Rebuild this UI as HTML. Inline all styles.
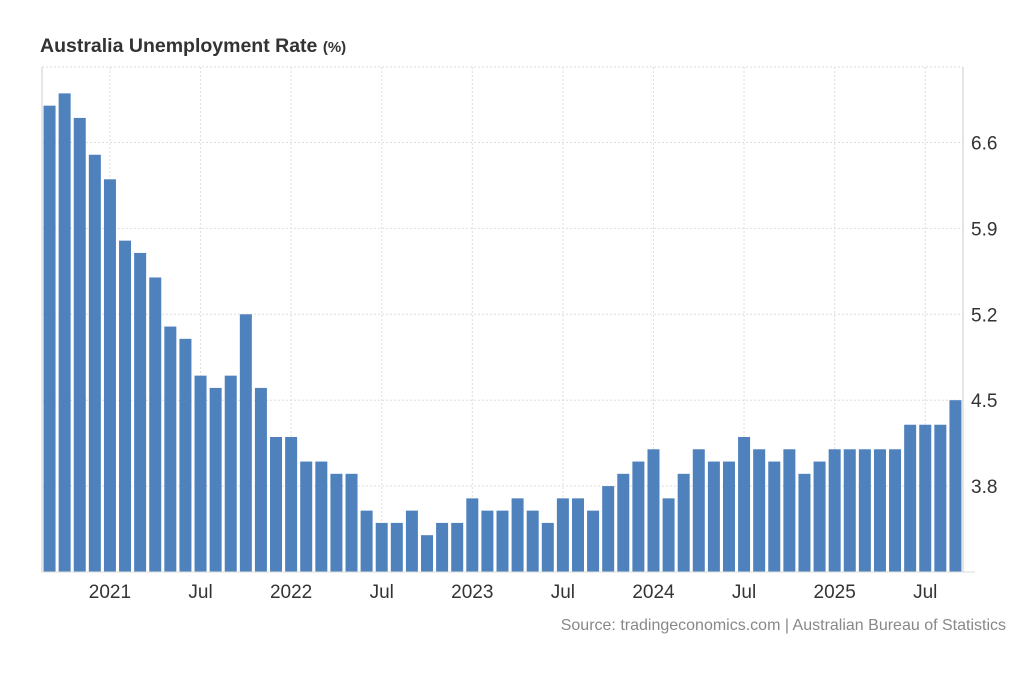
<!DOCTYPE html>
<html><head><meta charset="utf-8"><style>
body{margin:0;background:#fff;font-family:"Liberation Sans",Arial,sans-serif;}
#wrap{position:relative;width:1024px;height:700px;overflow:hidden;}
</style></head><body>
<div id="wrap">
<svg id="chart" width="1024" height="700">
<text x="40" y="52" font-size="19.5" font-weight="bold" fill="#333">Australia Unemployment Rate <tspan font-size="15">(%)</tspan></text>
<text x="1006" y="630" font-size="16" fill="#888" text-anchor="end">Source: tradingeconomics.com | Australian Bureau of Statistics</text>
</svg>
</div>
<script>
const values=[6.9,7.0,6.8,6.5,6.3,5.8,5.7,5.5,5.1,5.0,4.7,4.6,4.7,5.2,4.6,4.2,4.2,4.0,4.0,3.9,3.9,3.6,3.5,3.5,3.6,3.4,3.5,3.5,3.7,3.6,3.6,3.7,3.6,3.5,3.7,3.7,3.6,3.8,3.9,4.0,4.1,3.7,3.9,4.1,4.0,4.0,4.2,4.1,4.0,4.1,3.9,4.0,4.1,4.1,4.1,4.1,4.1,4.3,4.3,4.3,4.5];
const xTickIndex=[4,10,16,22,28,34,40,46,52,58];
const xTickLabels=["2021","Jul","2022","Jul","2023","Jul","2024","Jul","2025","Jul"];
const yTicks=[3.8,4.5,5.2,5.9,6.6];
const yMin=3.1,yMax=7.215;
const L=42,R=963,T=67,B=572;
const ns="http://www.w3.org/2000/svg";
const svg=document.getElementById('chart');
const step=(R-L)/values.length;
const xc=i=>L+step*(i+0.5);
const y=v=>B-(v-yMin)/(yMax-yMin)*(B-T);
function mk(tag,attrs){const e=document.createElementNS(ns,tag);for(const k in attrs)e.setAttribute(k,attrs[k]);svg.appendChild(e);return e;}
let g=mk('line',{x1:L,x2:R,y1:T,y2:T,stroke:'#ddd','stroke-dasharray':'2,2'});


yTicks.forEach(t=>{
 const l=mk('line',{x1:L,x2:R,y1:y(t),y2:y(t),stroke:'#ddd','stroke-dasharray':'2,2'});
 
 
 const tx=mk('text',{x:R+8,y:y(t)+7,'font-size':19,fill:'#333'});
 tx.textContent=t.toFixed(1);
 
 
});
xTickIndex.forEach((idx,k)=>{
 const l=mk('line',{x1:xc(idx),x2:xc(idx),y1:T,y2:B,stroke:'#ddd','stroke-dasharray':'2,2'});
 
 
 const tx=mk('text',{x:xc(idx),y:598,'font-size':19,fill:'#333','text-anchor':'middle'});
 tx.textContent=xTickLabels[k];
 
 
});
values.forEach((v,i)=>{
 const r=mk('rect',{x:xc(i)-6,y:y(v),width:12,height:B-y(v),fill:'#4f81bd'});
 
 
});
let a=mk('line',{x1:L,x2:L,y1:T,y2:B,stroke:'#ddd','stroke-width':1.5});


a=mk('line',{x1:R,x2:R,y1:T,y2:B,stroke:'#ccc','stroke-width':1});


a=mk('line',{x1:L,x2:R+12,y1:B,y2:B,stroke:'#ddd','stroke-width':1});


</script>
</body></html>
